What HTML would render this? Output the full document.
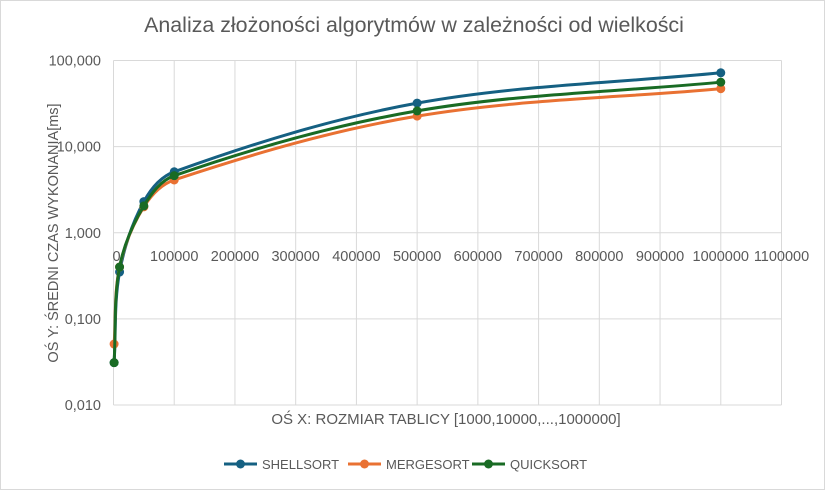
<!DOCTYPE html>
<html><head><meta charset="utf-8"><style>
body{margin:0;background:#fff;}
svg{display:block;font-family:"Liberation Sans",sans-serif;}
</style></head><body>
<svg id="chart" width="825" height="490">
<rect x="0.5" y="0.5" width="824" height="489" fill="#fff" stroke="#d9d9d9"/>
<text x="414" y="32" font-size="21.4" fill="#595959" text-anchor="middle">Analiza złożoności algorytmów w zależności od wielkości</text>
<g id="grid"></g><g id="series"></g>
<text transform="translate(58,233) rotate(-90)" font-size="14.5" fill="#595959" text-anchor="middle">OŚ Y: ŚREDNI CZAS WYKONANIA[ms]</text>
<text x="446" y="424" font-size="15" fill="#595959" text-anchor="middle">OŚ X: ROZMIAR TABLICY [1000,10000,...,1000000]</text>
<g id="legend"></g>
</svg>
<script>
const xValues=[1000,10000,50000,100000,500000,1000000];
const shellsort=[0.031,0.35,2.3,5.1,32,72];
const mergesort=[0.051,0.40,2.0,4.1,22.6,47];
const quicksort=[0.031,0.40,2.05,4.6,26,56];
const xTicks=[0,100000,200000,300000,400000,500000,600000,700000,800000,900000,1000000,1100000];
const yTicks=[0.01,0.1,1,10,100];
const yTickLabels=["0,010","0,100","1,000","10,000","100,000"];
const seriesNames=["SHELLSORT","MERGESORT","QUICKSORT"];
const NS="http://www.w3.org/2000/svg";
const x0=113.5,x1=781.5,yTop=60.5,yBot=405;
const xs=v=>x0+(v/1100000)*(x1-x0);
const ys=v=>yTop+(2-Math.log10(v))*((yBot-yTop)/4);
function mk(t,a,p){const e=document.createElementNS(NS,t);for(const k in a)e.setAttribute(k,a[k]);p.appendChild(e);return e;}
const grid=document.getElementById('grid');
xTicks.forEach((t,i)=>{
 const l=mk('line',{x1:xs(t),x2:xs(t),y1:yTop,y2:yBot,stroke:'#d9d9d9','stroke-width':1},grid);
 
 
 const tx=mk('text',{x:xs(t)+(i==0?3:0),y:ys(1)+28,'font-size':14.5,fill:'#595959','text-anchor':'middle'},grid);
 tx.textContent=t;
 
 
});
yTicks.forEach((t,i)=>{
 const l=mk('line',{x1:x0,x2:x1,y1:ys(t),y2:ys(t),stroke:'#d9d9d9','stroke-width':1},grid);
 
 
 const tx=mk('text',{x:101,y:ys(t)+5,'font-size':14.5,fill:'#595959','text-anchor':'end'},grid);
 tx.textContent=yTickLabels[i];
 
 
});
function dist(a,b){return Math.hypot(a[0]-b[0],a[1]-b[1]);}
function path(pts){
 const n=pts.length,T=[];
 for(let i=0;i<n;i++){
  const a=pts[Math.max(0,i-1)],b=pts[Math.min(n-1,i+1)];
  const L=dist(a,b)||1;
  T.push([(b[0]-a[0])/L,(b[1]-a[1])/L]);
 }
 let d='M'+pts[0][0]+','+pts[0][1];
 for(let i=0;i<n-1;i++){
  const p1=pts[i],p2=pts[i+1],s=dist(p1,p2)/3;
  d+=' C'+(p1[0]+T[i][0]*s)+','+(p1[1]+T[i][1]*s)+' '+(p2[0]-T[i+1][0]*s)+','+(p2[1]-T[i+1][1]*s)+' '+p2[0]+','+p2[1];
 }
 return d;
}
const colors=['#156082','#E97132','#196B24'];
const data=[shellsort,mergesort,quicksort];
const sg=document.getElementById('series');
[0,1,2].forEach(s=>{
 const g=mk('g',{},sg);
 
 
 const pts=xValues.map((x,i)=>[xs(x),ys(data[s][i])]);
 const p=mk('path',{d:path(pts),fill:'none',stroke:colors[s],'stroke-width':3,'stroke-linejoin':'round'},g);
 
 
 pts.forEach(pt=>{
  const c=mk('circle',{cx:pt[0],cy:pt[1],r:4.5,fill:colors[s]},g);
  
  
 });
});
const lg=document.getElementById('legend');
const lx=[224,348,472];
seriesNames.forEach((n,i)=>{
 const g=mk('g',{},lg);
 
 
 mk('line',{x1:lx[i],x2:lx[i]+33,y1:464,y2:464,stroke:colors[i],'stroke-width':3},g);
 mk('circle',{cx:lx[i]+16.5,cy:464,r:4.5,fill:colors[i]},g);
 const t=mk('text',{x:lx[i]+38,y:469,'font-size':13,fill:'#595959'},g);
 t.textContent=n;
});
</script>
</body></html>
